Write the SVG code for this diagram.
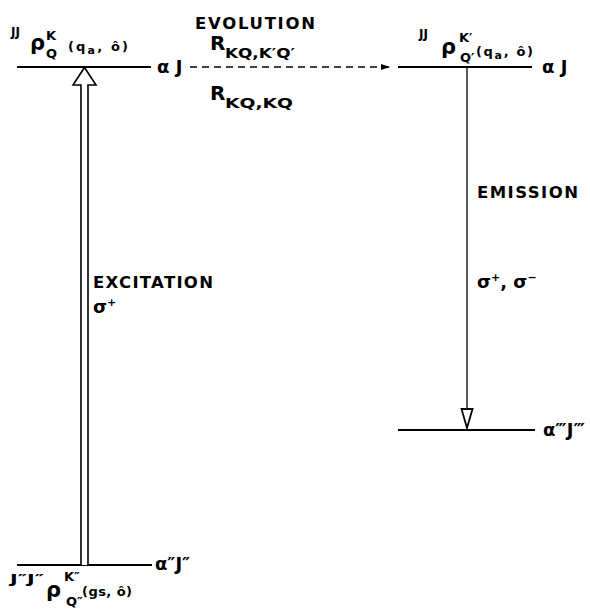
<svg xmlns="http://www.w3.org/2000/svg" width="590" height="609" viewBox="0 0 590 609">
<style>
  text { font-family: "DejaVu Sans", "Liberation Sans", sans-serif; font-weight: bold; fill: #000; }
  .lvl { stroke: #000; stroke-width: 2; fill: none; }
  .big { font-size: 16.5px; }
  .st { font-size: 18px; }
  .sm { font-size: 12px; }
  .sup { font-size: 13px; }
  .rho { font-size: 21px; }
  .arg { font-size: 13px; }
  .R { font-size: 20px; }
  .sub { font-size: 14px; }
</style>
<defs>
  <marker id="dashHead" markerWidth="10" markerHeight="8" refX="9" refY="4" orient="auto" markerUnits="userSpaceOnUse">
    <path d="M0,1 L9,4 L0,7 Z" fill="#000"/>
  </marker>
</defs>
<rect width="590" height="609" fill="#fff"/>

<g id="level-upper-left">
  <line class="lvl" x1="17" y1="67" x2="151" y2="67"/>
  <text class="st" x="157" y="73">α J</text>
  <text class="sm" x="11" y="36">JJ</text>
  <text class="rho" x="30" y="50">ρ</text>
  <text class="sup" x="46" y="40">K</text>
  <text class="sup" x="46" y="58">Q</text>
  <text class="arg" x="68" y="51" textLength="60" lengthAdjust="spacing">(q<tspan font-size="11" dy="3">a</tspan><tspan dy="-3">, ô)</tspan></text>
</g>

<g id="level-upper-right">
  <line class="lvl" x1="398" y1="67" x2="532" y2="67"/>
  <text class="st" x="542" y="73">α J</text>
  <text class="sm" x="419" y="38">JJ</text>
  <text class="rho" x="441" y="54">ρ</text>
  <text class="sup" x="459" y="42">K′</text>
  <text class="sup" x="460" y="62">Q′</text>
  <text class="arg" x="476" y="56" textLength="57" lengthAdjust="spacing">(q<tspan font-size="11" dy="3">a</tspan><tspan dy="-3">, ô)</tspan></text>
</g>

<g id="level-lower-left">
  <line class="lvl" x1="17" y1="565" x2="152" y2="565"/>
  <text class="st" x="155" y="570">α″J″</text>
  <text class="sm" x="10" y="583" textLength="34" lengthAdjust="spacingAndGlyphs">J″J″</text>
  <text class="rho" x="46" y="597">ρ</text>
  <text class="sup" x="64" y="581">K″</text>
  <text class="sup" x="66" y="606">Q″</text>
  <text class="arg" x="82" y="596" textLength="50" lengthAdjust="spacing">(gs, ô)</text>
</g>

<g id="level-lower-right">
  <line class="lvl" x1="398" y1="430" x2="535" y2="430"/>
  <text class="st" x="543" y="436">α‴J‴</text>
</g>

<g id="connectors">
  <g id="excitation">
    <path d="M81,565 L81,85 L73,85 L84.5,67.5 L96,85 L88,85 L88,565" fill="#fff" stroke="#000" stroke-width="1.6" stroke-linejoin="miter"/>
    <text class="big" x="93" y="288" textLength="120" lengthAdjust="spacing">EXCITATION</text>
    <text class="st" x="93" y="313">σ<tspan font-size="11" dy="-7">+</tspan></text>
  </g>
  <g id="evolution">
    <line x1="190" y1="67" x2="390" y2="67" stroke="#000" stroke-width="1.5" stroke-dasharray="7,5" marker-end="url(#dashHead)"/>
    <text class="big" x="195" y="29" textLength="120" lengthAdjust="spacing">EVOLUTION</text>
    <text class="R" x="210" y="50">R</text>
    <text class="sub" x="225" y="58" textLength="70" lengthAdjust="spacingAndGlyphs">KQ,K′Q′</text>
    <text class="R" x="210" y="100">R</text>
    <text class="sub" x="225" y="108" textLength="68" lengthAdjust="spacingAndGlyphs">KQ,KQ</text>
  </g>
  <g id="emission">
    <line x1="467" y1="67" x2="467" y2="430" stroke="#000" stroke-width="1.3"/>
    <path d="M461.5,409 L472.5,409 L467,428 Z" fill="#fff" stroke="#000" stroke-width="1.8" stroke-linejoin="miter"/>
    <text class="big" x="477" y="198" textLength="101" lengthAdjust="spacing">EMISSION</text>
    <text class="st" x="477" y="288">σ<tspan font-size="11" dy="-7">+</tspan><tspan dy="7">, σ</tspan><tspan font-size="11" dy="-7">−</tspan></text>
  </g>
</g>
</svg>
